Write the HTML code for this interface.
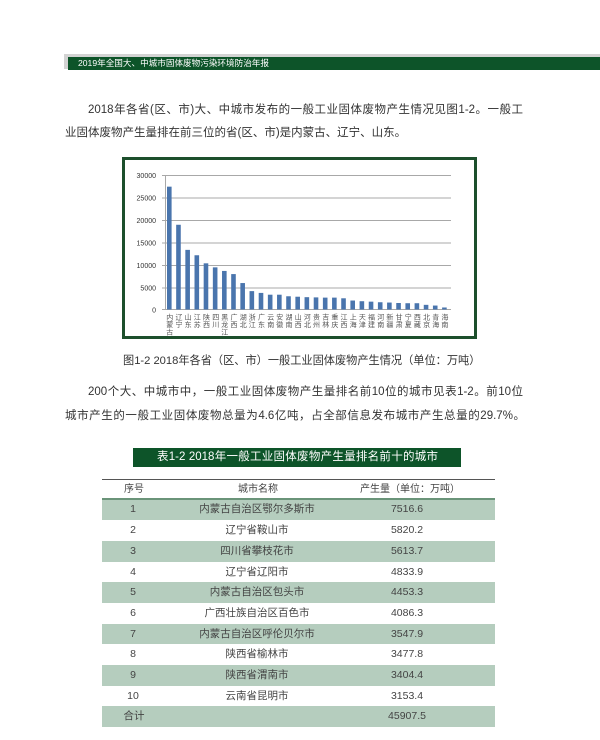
<!DOCTYPE html>
<html><head><meta charset="utf-8"><style>
*{margin:0;padding:0;box-sizing:border-box}
body{width:600px;height:740px;background:#fff;position:relative;overflow:hidden;font-family:"Liberation Sans","Noto Sans CJK SC",sans-serif;color:#333}
.a{position:absolute;white-space:nowrap}
.j{position:absolute;text-align:justify;text-align-last:justify;white-space:normal;overflow:hidden}
.p{font-size:11.5px;color:#333}
.row{position:absolute;left:102px;width:393px;height:21px}
.g{background:#b5cdbe}
.c{position:absolute;text-align:center;font-size:10.5px;color:#444;white-space:nowrap;width:200px}
</style></head><body>

<div class="a" style="left:64px;top:54px;width:536px;height:15px;background:#d3d3d3"></div>
<div class="a" style="left:68px;top:57px;width:532px;height:13px;background:#0d5429"></div>
<div class="a" style="left:78px;top:57px;height:13px;line-height:13px;font-size:8.6px;color:#fff">2019年全国大、中城市固体废物污染环境防治年报</div>

<div class="j p" style="left:88px;top:102px;width:435px;height:17px;line-height:17px">2018年各省(区、市)大、中城市发布的一般工业固体废物产生情况见图1-2。一般工</div>
<div class="a p" style="left:65px;top:125px;height:17px;line-height:17px">业固体废物产生量排在前三位的省(区、市)是内蒙古、辽宁、山东。</div>

<svg class="a" style="left:0;top:0" width="600" height="740" viewBox="0 0 600 740">
<rect x="123.5" y="158.5" width="352" height="179" fill="#fff" stroke="#1d4f2c" stroke-width="3"/>
<g stroke="#a8a8a8" stroke-width="1">
<line x1="162" y1="175.5" x2="451" y2="175.5"/>
<line x1="162" y1="198" x2="451" y2="198"/>
<line x1="162" y1="220.5" x2="451" y2="220.5"/>
<line x1="162" y1="243" x2="451" y2="243"/>
<line x1="162" y1="265.5" x2="451" y2="265.5"/>
<line x1="162" y1="288" x2="451" y2="288"/>
<line x1="162" y1="309.5" x2="451" y2="309.5"/>
<line x1="165.5" y1="175" x2="165.5" y2="310"/>
</g>
<g font-family="Liberation Sans" font-size="7" fill="#333" text-anchor="end">
<text x="156" y="178">30000</text>
<text x="156" y="200.5">25000</text>
<text x="156" y="223">20000</text>
<text x="156" y="245.5">15000</text>
<text x="156" y="268">10000</text>
<text x="156" y="290.5">5000</text>
<text x="156" y="312.5">0</text>
</g>
<g fill="#4a75ad">
<rect x="167.0" y="186.66" width="4.6" height="122.84"/>
<rect x="176.17" y="224.76" width="4.6" height="84.74"/>
<rect x="185.34" y="249.87" width="4.6" height="59.63"/>
<rect x="194.51" y="255.25" width="4.6" height="54.25"/>
<rect x="203.68" y="263.32" width="4.6" height="46.18"/>
<rect x="212.85" y="267.36" width="4.6" height="42.14"/>
<rect x="222.02" y="270.94" width="4.6" height="38.56"/>
<rect x="231.19" y="274.08" width="4.6" height="35.42"/>
<rect x="240.36" y="283.05" width="4.6" height="26.45"/>
<rect x="249.53" y="291.12" width="4.6" height="18.38"/>
<rect x="258.7" y="292.91" width="4.6" height="16.59"/>
<rect x="267.87" y="294.7" width="4.6" height="14.8"/>
<rect x="277.04" y="294.7" width="4.6" height="14.8"/>
<rect x="286.21" y="296.27" width="4.6" height="13.23"/>
<rect x="295.38" y="296.72" width="4.6" height="12.78"/>
<rect x="304.55" y="297.17" width="4.6" height="12.33"/>
<rect x="313.72" y="297.39" width="4.6" height="12.11"/>
<rect x="322.89" y="297.62" width="4.6" height="11.88"/>
<rect x="332.06" y="297.62" width="4.6" height="11.88"/>
<rect x="341.23" y="298.29" width="4.6" height="11.21"/>
<rect x="350.4" y="300.53" width="4.6" height="8.97"/>
<rect x="359.57" y="301.21" width="4.6" height="8.29"/>
<rect x="368.74" y="301.65" width="4.6" height="7.85"/>
<rect x="377.91" y="302.24" width="4.6" height="7.26"/>
<rect x="387.08" y="302.55" width="4.6" height="6.95"/>
<rect x="396.25" y="303.0" width="4.6" height="6.5"/>
<rect x="405.42" y="303.22" width="4.6" height="6.28"/>
<rect x="414.59" y="303.22" width="4.6" height="6.28"/>
<rect x="423.76" y="304.84" width="4.6" height="4.66"/>
<rect x="432.93" y="305.55" width="4.6" height="3.95"/>
<rect x="442.1" y="307.48" width="4.6" height="2.02"/>
</g>
<g font-family="'Noto Sans CJK SC',sans-serif" font-size="7" fill="#555" text-anchor="middle">
<text x="169.8" y="319.3">内<tspan x="169.8" dy="7.5">蒙</tspan><tspan x="169.8" dy="7.5">古</tspan></text>
<text x="179.0" y="319.3">辽<tspan x="179.0" dy="7.5">宁</tspan></text>
<text x="188.1" y="319.3">山<tspan x="188.1" dy="7.5">东</tspan></text>
<text x="197.3" y="319.3">江<tspan x="197.3" dy="7.5">苏</tspan></text>
<text x="206.5" y="319.3">陕<tspan x="206.5" dy="7.5">西</tspan></text>
<text x="215.7" y="319.3">四<tspan x="215.7" dy="7.5">川</tspan></text>
<text x="224.8" y="319.3">黑<tspan x="224.8" dy="7.5">龙</tspan><tspan x="224.8" dy="7.5">江</tspan></text>
<text x="234.0" y="319.3">广<tspan x="234.0" dy="7.5">西</tspan></text>
<text x="243.2" y="319.3">湖<tspan x="243.2" dy="7.5">北</tspan></text>
<text x="252.3" y="319.3">浙<tspan x="252.3" dy="7.5">江</tspan></text>
<text x="261.5" y="319.3">广<tspan x="261.5" dy="7.5">东</tspan></text>
<text x="270.7" y="319.3">云<tspan x="270.7" dy="7.5">南</tspan></text>
<text x="279.8" y="319.3">安<tspan x="279.8" dy="7.5">徽</tspan></text>
<text x="289.0" y="319.3">湖<tspan x="289.0" dy="7.5">南</tspan></text>
<text x="298.2" y="319.3">山<tspan x="298.2" dy="7.5">西</tspan></text>
<text x="307.4" y="319.3">河<tspan x="307.4" dy="7.5">北</tspan></text>
<text x="316.5" y="319.3">贵<tspan x="316.5" dy="7.5">州</tspan></text>
<text x="325.7" y="319.3">吉<tspan x="325.7" dy="7.5">林</tspan></text>
<text x="334.9" y="319.3">重<tspan x="334.9" dy="7.5">庆</tspan></text>
<text x="344.0" y="319.3">江<tspan x="344.0" dy="7.5">西</tspan></text>
<text x="353.2" y="319.3">上<tspan x="353.2" dy="7.5">海</tspan></text>
<text x="362.4" y="319.3">天<tspan x="362.4" dy="7.5">津</tspan></text>
<text x="371.5" y="319.3">福<tspan x="371.5" dy="7.5">建</tspan></text>
<text x="380.7" y="319.3">河<tspan x="380.7" dy="7.5">南</tspan></text>
<text x="389.9" y="319.3">新<tspan x="389.9" dy="7.5">疆</tspan></text>
<text x="399.1" y="319.3">甘<tspan x="399.1" dy="7.5">肃</tspan></text>
<text x="408.2" y="319.3">宁<tspan x="408.2" dy="7.5">夏</tspan></text>
<text x="417.4" y="319.3">西<tspan x="417.4" dy="7.5">藏</tspan></text>
<text x="426.6" y="319.3">北<tspan x="426.6" dy="7.5">京</tspan></text>
<text x="435.7" y="319.3">青<tspan x="435.7" dy="7.5">海</tspan></text>
<text x="444.9" y="319.3">海<tspan x="444.9" dy="7.5">南</tspan></text>
</g>
</svg>

<div class="j" style="left:123px;top:353px;width:356px;height:17px;line-height:17px;font-size:11.2px;color:#333">图1-2 2018年各省（区、市）一般工业固体废物产生情况（单位：万吨）</div>

<div class="j p" style="left:88px;top:384px;width:435px;height:17px;line-height:17px">200个大、中城市中，一般工业固体废物产生量排名前10位的城市见表1-2。前10位</div>
<div class="j p" style="left:65px;top:408px;width:460px;height:17px;line-height:17px">城市产生的一般工业固体废物总量为4.6亿吨，占全部信息发布城市产生总量的29.7%。</div>

<div class="a" style="left:133px;top:448px;width:328px;height:19px;background:#0d5429"></div>
<div class="j" style="left:157px;top:448px;width:281px;height:19px;line-height:19px;font-size:11.5px;color:#fff">表1-2 2018年一般工业固体废物产生量排名前十的城市</div>

<div class="a" style="left:102px;top:478.5px;width:393px;height:1px;background:#555"></div>
<div class="row g" style="top:499px;height:21px"></div>
<div class="row g" style="top:541px"></div>
<div class="row g" style="top:582px"></div>
<div class="row g" style="top:624px;height:20px"></div>
<div class="row g" style="top:665px"></div>
<div class="row g" style="top:706px"></div>
<div class="a" style="left:102px;top:498px;width:393px;height:2px;background:#6a9479"></div>

<div class="c" style="left:34px;top:480px;line-height:19px;font-size:10px">序号</div>
<div class="c" style="left:158px;top:480px;line-height:19px;font-size:10px">城市名称</div>
<div class="c" style="left:310px;top:480px;line-height:19px;font-size:10px">产生量（单位：万吨）</div>

<div class="c" style="left:33px;top:499px;line-height:21px">1</div>
<div class="c" style="left:157px;top:499px;line-height:21px">内蒙古自治区鄂尔多斯市</div>
<div class="c" style="left:307px;top:499px;line-height:21px">7516.6</div>

<div class="c" style="left:33px;top:520px;line-height:21px">2</div>
<div class="c" style="left:157px;top:520px;line-height:21px">辽宁省鞍山市</div>
<div class="c" style="left:307px;top:520px;line-height:21px">5820.2</div>

<div class="c" style="left:33px;top:541px;line-height:21px">3</div>
<div class="c" style="left:157px;top:541px;line-height:21px">四川省攀枝花市</div>
<div class="c" style="left:307px;top:541px;line-height:21px">5613.7</div>

<div class="c" style="left:33px;top:562px;line-height:20px">4</div>
<div class="c" style="left:157px;top:562px;line-height:20px">辽宁省辽阳市</div>
<div class="c" style="left:307px;top:562px;line-height:20px">4833.9</div>

<div class="c" style="left:33px;top:582px;line-height:21px">5</div>
<div class="c" style="left:157px;top:582px;line-height:21px">内蒙古自治区包头市</div>
<div class="c" style="left:307px;top:582px;line-height:21px">4453.3</div>

<div class="c" style="left:33px;top:603px;line-height:21px">6</div>
<div class="c" style="left:157px;top:603px;line-height:21px">广西壮族自治区百色市</div>
<div class="c" style="left:307px;top:603px;line-height:21px">4086.3</div>

<div class="c" style="left:33px;top:624px;line-height:20px">7</div>
<div class="c" style="left:157px;top:624px;line-height:20px">内蒙古自治区呼伦贝尔市</div>
<div class="c" style="left:307px;top:624px;line-height:20px">3547.9</div>

<div class="c" style="left:33px;top:644px;line-height:21px">8</div>
<div class="c" style="left:157px;top:644px;line-height:21px">陕西省榆林市</div>
<div class="c" style="left:307px;top:644px;line-height:21px">3477.8</div>

<div class="c" style="left:33px;top:665px;line-height:21px">9</div>
<div class="c" style="left:157px;top:665px;line-height:21px">陕西省渭南市</div>
<div class="c" style="left:307px;top:665px;line-height:21px">3404.4</div>

<div class="c" style="left:33px;top:686px;line-height:20px">10</div>
<div class="c" style="left:157px;top:686px;line-height:20px">云南省昆明市</div>
<div class="c" style="left:307px;top:686px;line-height:20px">3153.4</div>

<div class="c" style="left:34px;top:706px;line-height:21px">合计</div>
<div class="c" style="left:307px;top:706px;line-height:21px">45907.5</div>

</body></html>
